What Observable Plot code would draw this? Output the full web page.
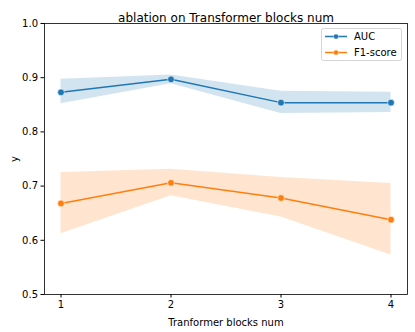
<!DOCTYPE html>
<html>
<head>
<meta charset="utf-8">
<script src="https://cdn.jsdelivr.net/npm/d3@7"></script>
<script src="https://cdn.jsdelivr.net/npm/@observablehq/plot@0.6"></script>
<style>
  body { margin: 0; background: #fff; }
  #chart { width: 415px; height: 332px; }
  svg { font-family: "DejaVu Sans", sans-serif; }
</style>
</head>
<body>
<div id="chart"></div>
<script>
const xs = [1, 2, 3, 4];
const xTicks = [1, 2, 3, 4];
const yTicks = [0.5, 0.6, 0.7, 0.8, 0.9, 1.0];
const seriesNames = ["AUC", "F1-score"];
const seriesColors = ["#1f77b4", "#ff7f0e"];
const aucMean = [0.873, 0.897, 0.854, 0.854];
const aucLow  = [0.852, 0.889, 0.834, 0.836];
const aucHigh = [0.897, 0.905, 0.875, 0.873];
const f1Mean  = [0.668, 0.706, 0.678, 0.638];
const f1Low   = [0.612, 0.682, 0.643, 0.573];
const f1High  = [0.725, 0.731, 0.716, 0.705];
const titleText = "ablation on Transformer blocks num";
const xLabel = "Tranformer blocks num";
const yLabel = "y";

const rows = [];
[[aucMean, aucLow, aucHigh], [f1Mean, f1Low, f1High]].forEach(([m, lo, hi], s) => {
  xs.forEach((x, i) => rows.push({series: seriesNames[s], x, y: m[i], lo: lo[i], hi: hi[i]}));
});

const W = 415, H = 332;
const mL = 44, mR = 8, mT = 23, mB = 38;

const chart = Plot.plot({
  width: W,
  height: H,
  marginLeft: mL,
  marginRight: mR,
  marginTop: mT,
  marginBottom: mB,
  style: {fontFamily: "DejaVu Sans, sans-serif", fontSize: "10px", background: "#fff", color: "#000"},
  x: {domain: [0.85, 4.15]},
  y: {domain: [0.5, 1.0]},
  color: {domain: seriesNames, range: seriesColors},
  marks: [
    Plot.areaY(rows, {x: "x", y1: "lo", y2: "hi", fill: "series", fillOpacity: 0.2}),
    Plot.line(rows, {x: "x", y: "y", stroke: "series", strokeWidth: 1.5}),
    Plot.dot(rows, {x: "x", y: "y", fill: "series", stroke: "white", strokeWidth: 0.6, r: 3.4}),
    Plot.frame({stroke: "#000", strokeWidth: 0.8}),
    Plot.axisX({ticks: xTicks, tickSize: 3.5, tickPadding: 2.5, tickFormat: d3.format("d"), fontSize: 10,
      label: xLabel, labelAnchor: "center", labelArrow: "none", labelOffset: 31}),
    Plot.axisY({ticks: yTicks, tickSize: 3.5, tickPadding: 3, tickFormat: d3.format(".1f"), fontSize: 10,
      label: yLabel, labelAnchor: "center", labelArrow: "none", labelOffset: 34}),
    Plot.text([titleText], {frameAnchor: "top", dy: -10, fontSize: 12, text: d => d})
  ]
});

document.getElementById("chart").appendChild(chart);

// Legend (matplotlib-style, upper right inside the axes)
const svg = d3.select(chart);
const lx = W - mR - 86, ly = mT + 5;
const lg = svg.append("g").attr("transform", `translate(${lx},${ly})`).attr("text-anchor", "start");
lg.append("rect").attr("x", 0.5).attr("y", 0.5).attr("width", 80).attr("height", 32)
  .attr("rx", 2).attr("fill", "white").attr("fill-opacity", 0.8).attr("stroke", "#cccccc").attr("stroke-width", 0.8);
seriesNames.forEach((name, i) => {
  const yy = 8.5 + i * 16;
  const g = lg.append("g").attr("transform", `translate(0,${yy})`);
  g.append("line").attr("x1", 4).attr("x2", 26).attr("y1", 0).attr("y2", 0)
    .attr("stroke", seriesColors[i]).attr("stroke-width", 1.5);
  g.append("circle").attr("cx", 15).attr("cy", 0).attr("r", 2.6)
    .attr("fill", seriesColors[i]).attr("stroke", "white").attr("stroke-width", 0.5);
  g.append("text").attr("x", 33).attr("y", 0).attr("dy", "0.35em").attr("text-anchor", "start")
    .attr("font-size", 10).attr("fill", "#000").text(name);
});
</script>
</body>
</html>
